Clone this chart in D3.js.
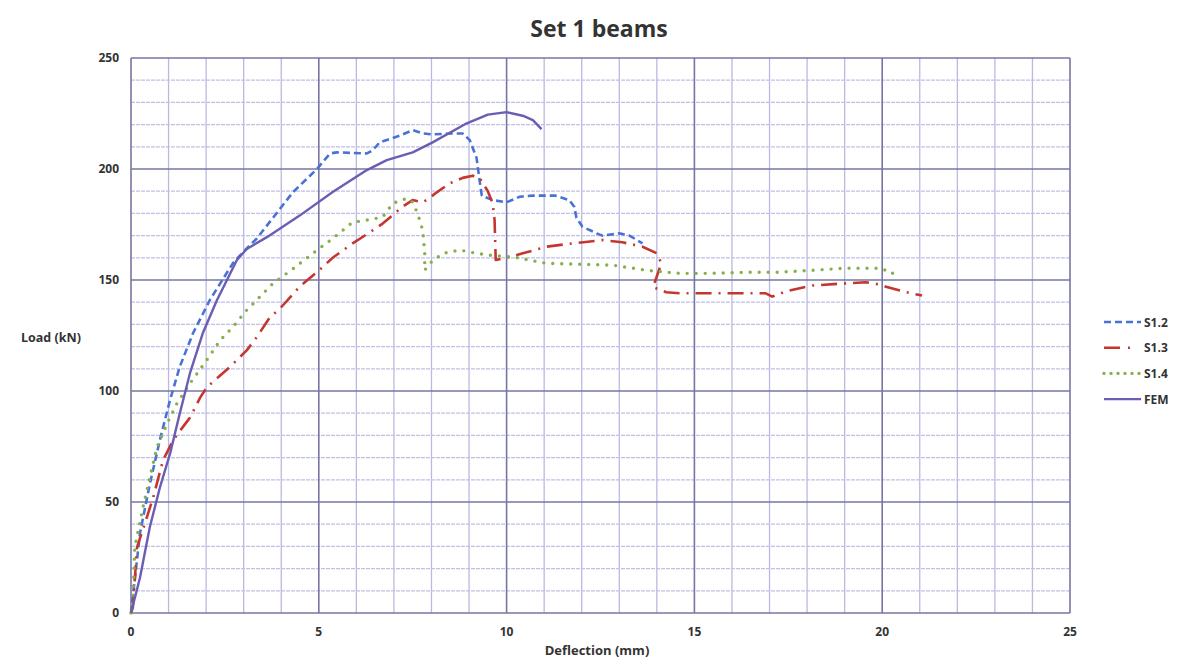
<!DOCTYPE html>
<html>
<head>
<meta charset="utf-8">
<script src="https://cdn.jsdelivr.net/npm/d3@7"></script>
<style>
  body { margin: 0; background: #fff; }
  svg text { font-family: "Open Sans", "DejaVu Sans", sans-serif; fill: #333; }
</style>
</head>
<body>
<div id="chart"></div>
<script>
// deflection (mm), load (kN)
var s12 = [[0,0],[0.24,36],[0.5,58],[0.77,78],[1.04,96],[1.3,111],[1.65,126],[2.1,141],[2.71,157.5],[2.98,162.5],[3.35,168.7],
  [3.78,178],[4.31,189.5],[4.95,200],[5.3,207],[5.48,207.5],[6.28,207],[6.44,208.5],[6.62,212],[7.15,215],[7.5,217.5],
  [7.77,216],[8.03,215.6],[8.56,216],[8.83,216],[9.02,213],[9.2,205],[9.28,195],[9.34,188],[9.63,186],[10,185],
  [10.35,187.5],[10.7,188],[11.3,188],[11.67,186],[11.8,183],[11.86,178],[12.02,174],[12.4,171],[12.55,170],
  [13,171],[13.27,170],[13.62,166.5]];
var s13 = [[0,0],[0.05,2.5],[0.16,29.6],[0.42,43],[0.59,52],[0.85,68.7],[1.12,77.8],[1.3,82],[1.57,88],[1.84,97],[2.02,101.7],
  [2.29,105.7],[2.63,110.8],[3.08,118.3],[3.35,124.3],[3.7,133.3],[3.96,137],[4.49,147],[4.95,153.5],[5.37,160],
  [5.9,166.5],[6.36,171.5],[6.7,175.4],[7.23,183],[7.5,186],[7.77,185],[7.95,187],[8.14,189.5],[8.48,193.5],
  [8.83,196],[9.1,197],[9.28,196],[9.5,190],[9.63,184.5],[9.68,177],[9.71,159],[10,160],[10.43,162],[11.06,165],
  [11.76,166.5],[12.55,168],[13.08,167],[13.62,165],[14,162],[14.12,157.5],[13.9,146.8],[14.25,144.5],[14.6,144],
  [15.48,144],[16.38,144],[16.9,144],[17.07,142.5],[17.45,145],[18.14,147.5],[19.03,148.5],[19.57,149],[19.92,148],
  [20.1,147],[20.64,144.5],[21.06,143]];
var s14 = [[0,0],[0.05,5.7],[0.1,29.6],[0.32,47.6],[0.5,61],[0.69,74.6],[0.96,85.3],[1.22,94.3],[1.57,103.4],[2.02,114],
  [2.37,122.8],[2.71,128.8],[3.08,136.4],[3.35,141],[3.78,148.5],[4.31,155],[4.84,162],[5.37,168.7],[5.9,176],
  [6.28,177],[6.7,178.3],[6.97,184.5],[7.34,186.8],[7.5,185],[7.63,180],[7.77,172.3],[7.82,162],[7.82,154.4],
  [7.95,157.5],[8.3,162],[8.75,163.5],[9.2,162],[9.63,161],[10.16,160.4],[11.06,157.5],[12.82,156.7],[13.72,154.4],
  [14.6,153],[15.48,153],[16.38,153.5],[17.26,153.5],[18.14,154.4],[19.03,155.3],[19.92,155.3],[20.27,153.5],[20.32,150]];
var fem = [[0,0],[0.24,16],[0.5,38.6],[0.77,56.6],[1.04,71.8],[1.3,90],[1.57,108],[1.91,126],[2.29,141],[2.82,159],
  [3.08,164],[3.62,169.3],[4.49,179],[5.37,189.6],[6.28,199.5],[6.81,204],[7.5,207.5],[8.03,212],[8.94,220.6],
  [9.5,224.5],[10,225.6],[10.43,224],[10.7,222],[10.93,218]];

var seriesNames = ["S1.2", "S1.3", "S1.4", "FEM"];
var seriesData = [s12, s13, s14, fem];
var xTicks = [0, 5, 10, 15, 20, 25];
var yTicks = [0, 50, 100, 150, 200, 250];

var width = 1193, height = 660;
var margin = {left: 131, right: 123, top: 58, bottom: 47};

var svg = d3.select("#chart").append("svg")
  .attr("width", width).attr("height", height);

var x = d3.scaleLinear().domain([0, 25]).range([margin.left, width - margin.right]);
var y = d3.scaleLinear().domain([0, 250]).range([height - margin.bottom, margin.top]);

// minor grid
svg.append("g").selectAll("line").data(d3.range(1, 25).filter(function(d) { return d % 5; }))
  .enter().append("line")
  .attr("x1", function(d) { return x(d); }).attr("x2", function(d) { return x(d); })
  .attr("y1", y(0)).attr("y2", y(250))
  .attr("stroke", "#b9b9e4").attr("stroke-width", 1.3);
svg.append("g").selectAll("line").data(d3.range(10, 250, 10).filter(function(d) { return d % 50; }))
  .enter().append("line")
  .attr("x1", x(0)).attr("x2", x(25))
  .attr("y1", function(d) { return y(d); }).attr("y2", function(d) { return y(d); })
  .attr("stroke", "#c0c0e6").attr("stroke-width", 1.2).attr("stroke-dasharray", "4,1");

// major grid
svg.append("g").selectAll("line").data(xTicks)
  .enter().append("line")
  .attr("x1", function(d) { return x(d); }).attr("x2", function(d) { return x(d); })
  .attr("y1", y(0)).attr("y2", y(250))
  .attr("stroke", "#7676a4").attr("stroke-width", 1.6);
svg.append("g").selectAll("line").data(yTicks)
  .enter().append("line")
  .attr("x1", x(0)).attr("x2", x(25))
  .attr("y1", function(d) { return y(d); }).attr("y2", function(d) { return y(d); })
  .attr("stroke", "#7676a4").attr("stroke-width", 1.6);

// tick labels
svg.append("g").selectAll("text").data(yTicks)
  .enter().append("text")
  .attr("x", x(0) - 12).attr("y", function(d) { return y(d) + 4; })
  .attr("text-anchor", "end").attr("font-size", 12).attr("font-weight", "bold")
  .text(function(d) { return d; });
svg.append("g").selectAll("text").data(xTicks)
  .enter().append("text")
  .attr("x", function(d) { return x(d); }).attr("y", y(0) + 23)
  .attr("text-anchor", "middle").attr("font-size", 12).attr("font-weight", "bold")
  .text(function(d) { return d; });

// titles
svg.append("text").attr("x", 599).attr("y", 37).attr("text-anchor", "middle")
  .attr("font-size", 23).attr("font-weight", "bold").text("Set 1 beams");
svg.append("text").attr("x", 597).attr("y", 655).attr("text-anchor", "middle")
  .attr("font-size", 13).attr("font-weight", "bold").text("Deflection (mm)");
svg.append("text").attr("x", 21).attr("y", 342)
  .attr("font-size", 12.5).attr("font-weight", "bold").text("Load (kN)");

// series
var colors = ["#4a72d6", "#c4372f", "#86b04a", "#6a5db4"];
var dashes = ["7,4", "16,7,2,7", "0,9", null];
var widths = [2.6, 2.6, 3.4, 2.4];

var line = d3.line().x(function(d) { return x(d[0]); }).y(function(d) { return y(d[1]); });

seriesData.forEach(function(s, i) {
  svg.append("path").datum(s)
    .attr("d", line)
    .attr("fill", "none")
    .attr("stroke", colors[i])
    .attr("stroke-width", widths[i])
    .attr("stroke-dasharray", dashes[i])
    .attr("stroke-linecap", i == 2 ? "round" : "butt")
    .attr("stroke-linejoin", "round");
});

// legend
var legendDashes = ["7,4", "16,8,2,12", "0,7", null];
var legend = svg.append("g").selectAll("g").data(seriesNames)
  .enter().append("g")
  .attr("transform", function(d, i) { return "translate(1104," + (322 + i * 25.7) + ")"; });
legend.append("line")
  .attr("x1", 0).attr("x2", 37).attr("y1", 0).attr("y2", 0)
  .attr("stroke", function(d, i) { return colors[i]; })
  .attr("stroke-width", function(d, i) { return widths[i]; })
  .attr("stroke-dasharray", function(d, i) { return legendDashes[i]; })
  .attr("stroke-linecap", function(d, i) { return i == 2 ? "round" : "butt"; });
legend.append("text")
  .attr("x", 40).attr("y", 4.5)
  .attr("font-size", 12).attr("font-weight", "bold")
  .text(function(d) { return d; });
</script>
</body>
</html>
